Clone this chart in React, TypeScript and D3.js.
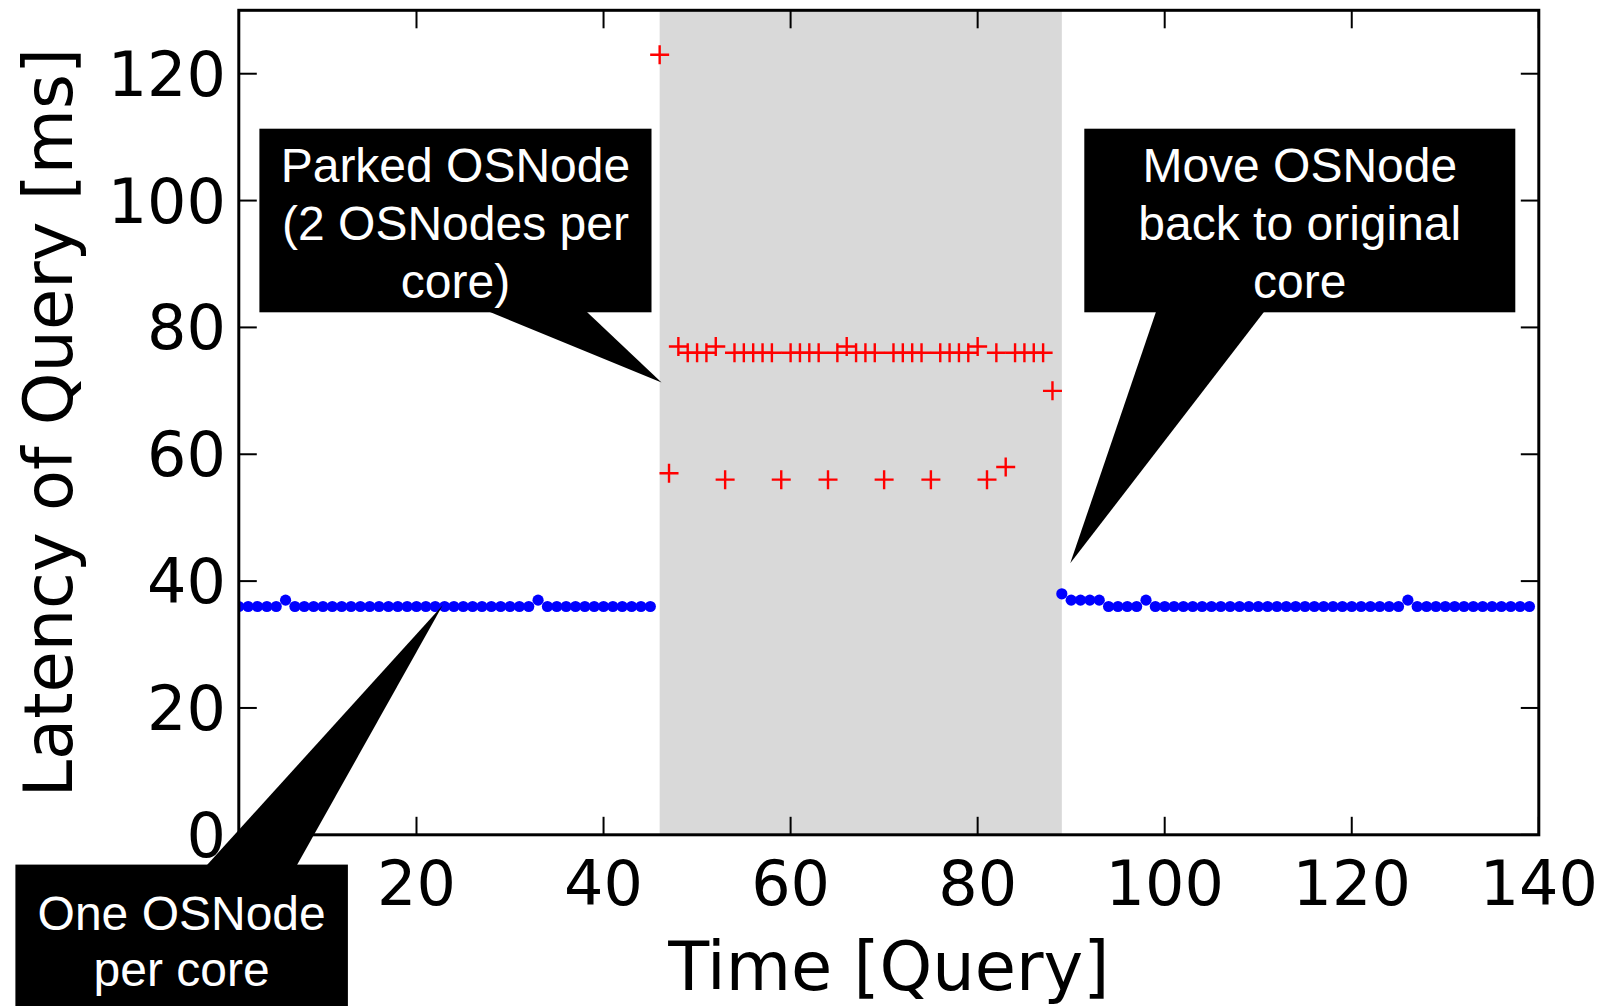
import React from 'react';
import * as d3 from 'd3';

// query number of the first point in each run
const beforeStart = 1;
const parkedStart = 46;
const afterStart = 89;

// latency [ms], one value per query
const beforeLatency = [
  36, 36, 36, 36, 36, 37, 36, 36, 36, 36, 36, 36, 36, 36, 36, 36, 36, 36, 36, 36,
  36, 36, 36, 36, 36, 36, 36, 36, 36, 36, 36, 36, 37, 36, 36, 36, 36, 36, 36, 36,
  36, 36, 36, 36, 36,
];
const parkedLatency = [
  123, 57, 77, 76, 76, 76, 77, 56, 76, 76, 76, 76, 76, 56, 76, 76, 76, 76, 56, 76,
  77, 76, 76, 76, 56, 76, 76, 76, 76, 56, 76, 76, 76, 76, 77, 56, 76, 58, 76, 76,
  76, 76, 70,
];
const afterLatency = [
  38, 37, 37, 37, 37, 36, 36, 36, 36, 37, 36, 36, 36, 36, 36, 36, 36, 36, 36, 36,
  36, 36, 36, 36, 36, 36, 36, 36, 36, 36, 36, 36, 36, 36, 36, 36, 36, 37, 36, 36,
  36, 36, 36, 36, 36, 36, 36, 36, 36, 36, 36,
];

const xTicks = [20, 40, 60, 80, 100, 120, 140];
const yTicks = [0, 20, 40, 60, 80, 100, 120];
const shadedSpan = [46, 89];

const calloutTexts = [
  ['Parked OSNode', '(2 OSNodes per', 'core)'],
  ['Move OSNode', 'back to original', 'core'],
  ['One OSNode', 'per core'],
];
const calloutTips = [
  [46.2, 71.3],
  [89.9, 42.8],
  [22.8, 36.2],
];

const W = 1614;
const H = 1006;
const left = 238.8, right = 1538.8, top = 10.3, bottom = 834.8;
const tickFont = '"DejaVu Sans", sans-serif';

export default function App() {
  const x = d3.scaleLinear().domain([1, 140]).range([left, right]);
  const y = d3.scaleLinear().domain([0, 130]).range([bottom, top]);

  const toPoints = (start: number, vals: number[]) => vals.map((v, i) => ({ q: start + i, v }));
  const blue = [...toPoints(beforeStart, beforeLatency), ...toPoints(afterStart, afterLatency)];
  const red = toPoints(parkedStart, parkedLatency);

  // box rectangles and where the wedge leaves the box edge (pixels)
  const boxes = [
    { x: 259.4, y: 128.7, w: 392.1, h: 183.6, edge: 'bottom', b0: 489.3, b1: 586.7, base: [53.3, 111.3, 168.8] },
    { x: 1084.3, y: 128.7, w: 431, h: 183.6, edge: 'bottom', b0: 1156, b1: 1264, base: [53.3, 111.3, 168.8] },
    { x: 15.4, y: 864.6, w: 332.5, h: 160, edge: 'top', b0: 207, b1: 297, base: [64.9, 121.4] },
  ];

  const wedge = (i: number) => {
    const b = boxes[i];
    const tx = x(calloutTips[i][0]);
    const ty = y(calloutTips[i][1]);
    const ey = b.edge === 'bottom' ? b.y + b.h - 0.5 : b.y + 0.5;
    const inside = b.edge === 'bottom' ? ey - 15 : ey + 15;
    const ext = (bx: number) => {
      const t = (inside - ty) / (ey - ty);
      return [tx + (bx - tx) * t, inside];
    };
    const p0 = ext(b.b0);
    const p1 = ext(b.b1);
    return `M${p0[0]},${p0[1]}L${tx},${ty}L${p1[0]},${p1[1]}Z`;
  };

  const tickLen = 18;

  return (
    <svg width={W} height={H} style={{ position: 'absolute', left: 0, top: 0, background: '#fff' }}>
      <defs>
        <clipPath id="plot">
          <rect x={left} y={top} width={right - left} height={bottom - top} />
        </clipPath>
      </defs>
      <rect x={0} y={0} width={W} height={H} fill="#fff" />

      <rect
        x={x(shadedSpan[0])}
        y={top}
        width={x(shadedSpan[1]) - x(shadedSpan[0])}
        height={bottom - top}
        fill="#d9d9d9"
      />

      <g clipPath="url(#plot)">
        {blue.map(d => (
          <circle key={'b' + d.q} cx={x(d.q)} cy={y(d.v)} r={5.6} fill="#0000ff" />
        ))}
        {red.map(d => (
          <path
            key={'r' + d.q}
            d={`M${x(d.q) - 9.5},${y(d.v)}h19M${x(d.q)},${y(d.v) - 9.5}v19`}
            stroke="#ff0000"
            strokeWidth={2.4}
            fill="none"
          />
        ))}
      </g>

      {/* ticks, inward on all four sides */}
      <g stroke="#000" strokeWidth={2}>
        {xTicks.map(t => (
          <g key={'xt' + t}>
            <line x1={x(t)} x2={x(t)} y1={bottom} y2={bottom - tickLen} />
            <line x1={x(t)} x2={x(t)} y1={top} y2={top + tickLen} />
          </g>
        ))}
        {yTicks.map(t => (
          <g key={'yt' + t}>
            <line x1={left} x2={left + tickLen} y1={y(t)} y2={y(t)} />
            <line x1={right} x2={right - tickLen} y1={y(t)} y2={y(t)} />
          </g>
        ))}
      </g>
      <rect x={left} y={top} width={right - left} height={bottom - top} fill="none" stroke="#000" strokeWidth={3} />

      <g fontFamily={tickFont} fontSize={62} fill="#000">
        {xTicks.map(t => (
          <text key={'xl' + t} x={x(t)} y={905} textAnchor="middle">{t}</text>
        ))}
        {yTicks.map(t => (
          <text key={'yl' + t} x={226} y={y(t) + 22} textAnchor="end">{t}</text>
        ))}
      </g>

      <text x={(left + right) / 2} y={990} textAnchor="middle" fontFamily={tickFont} fontSize={67}>
        Time [Query]
      </text>
      <text
        transform={`translate(72,${(top + bottom) / 2}) rotate(-90)`}
        textAnchor="middle"
        fontFamily={tickFont}
        fontSize={67}
      >
        Latency of Query [ms]
      </text>

      {boxes.map((b, i) => (
        <g key={'c' + i}>
          <path d={wedge(i)} fill="#000" />
          <rect x={b.x} y={b.y} width={b.w} height={b.h} fill="#000" />
          {calloutTexts[i].map((line, j) => (
            <text
              key={j}
              x={b.x + b.w / 2}
              y={b.y + b.base[j]}
              textAnchor="middle"
              fill="#fff"
              fontFamily='"Liberation Sans", Arial, sans-serif'
              fontSize={48}
            >
              {line}
            </text>
          ))}
        </g>
      ))}
    </svg>
  );
}
